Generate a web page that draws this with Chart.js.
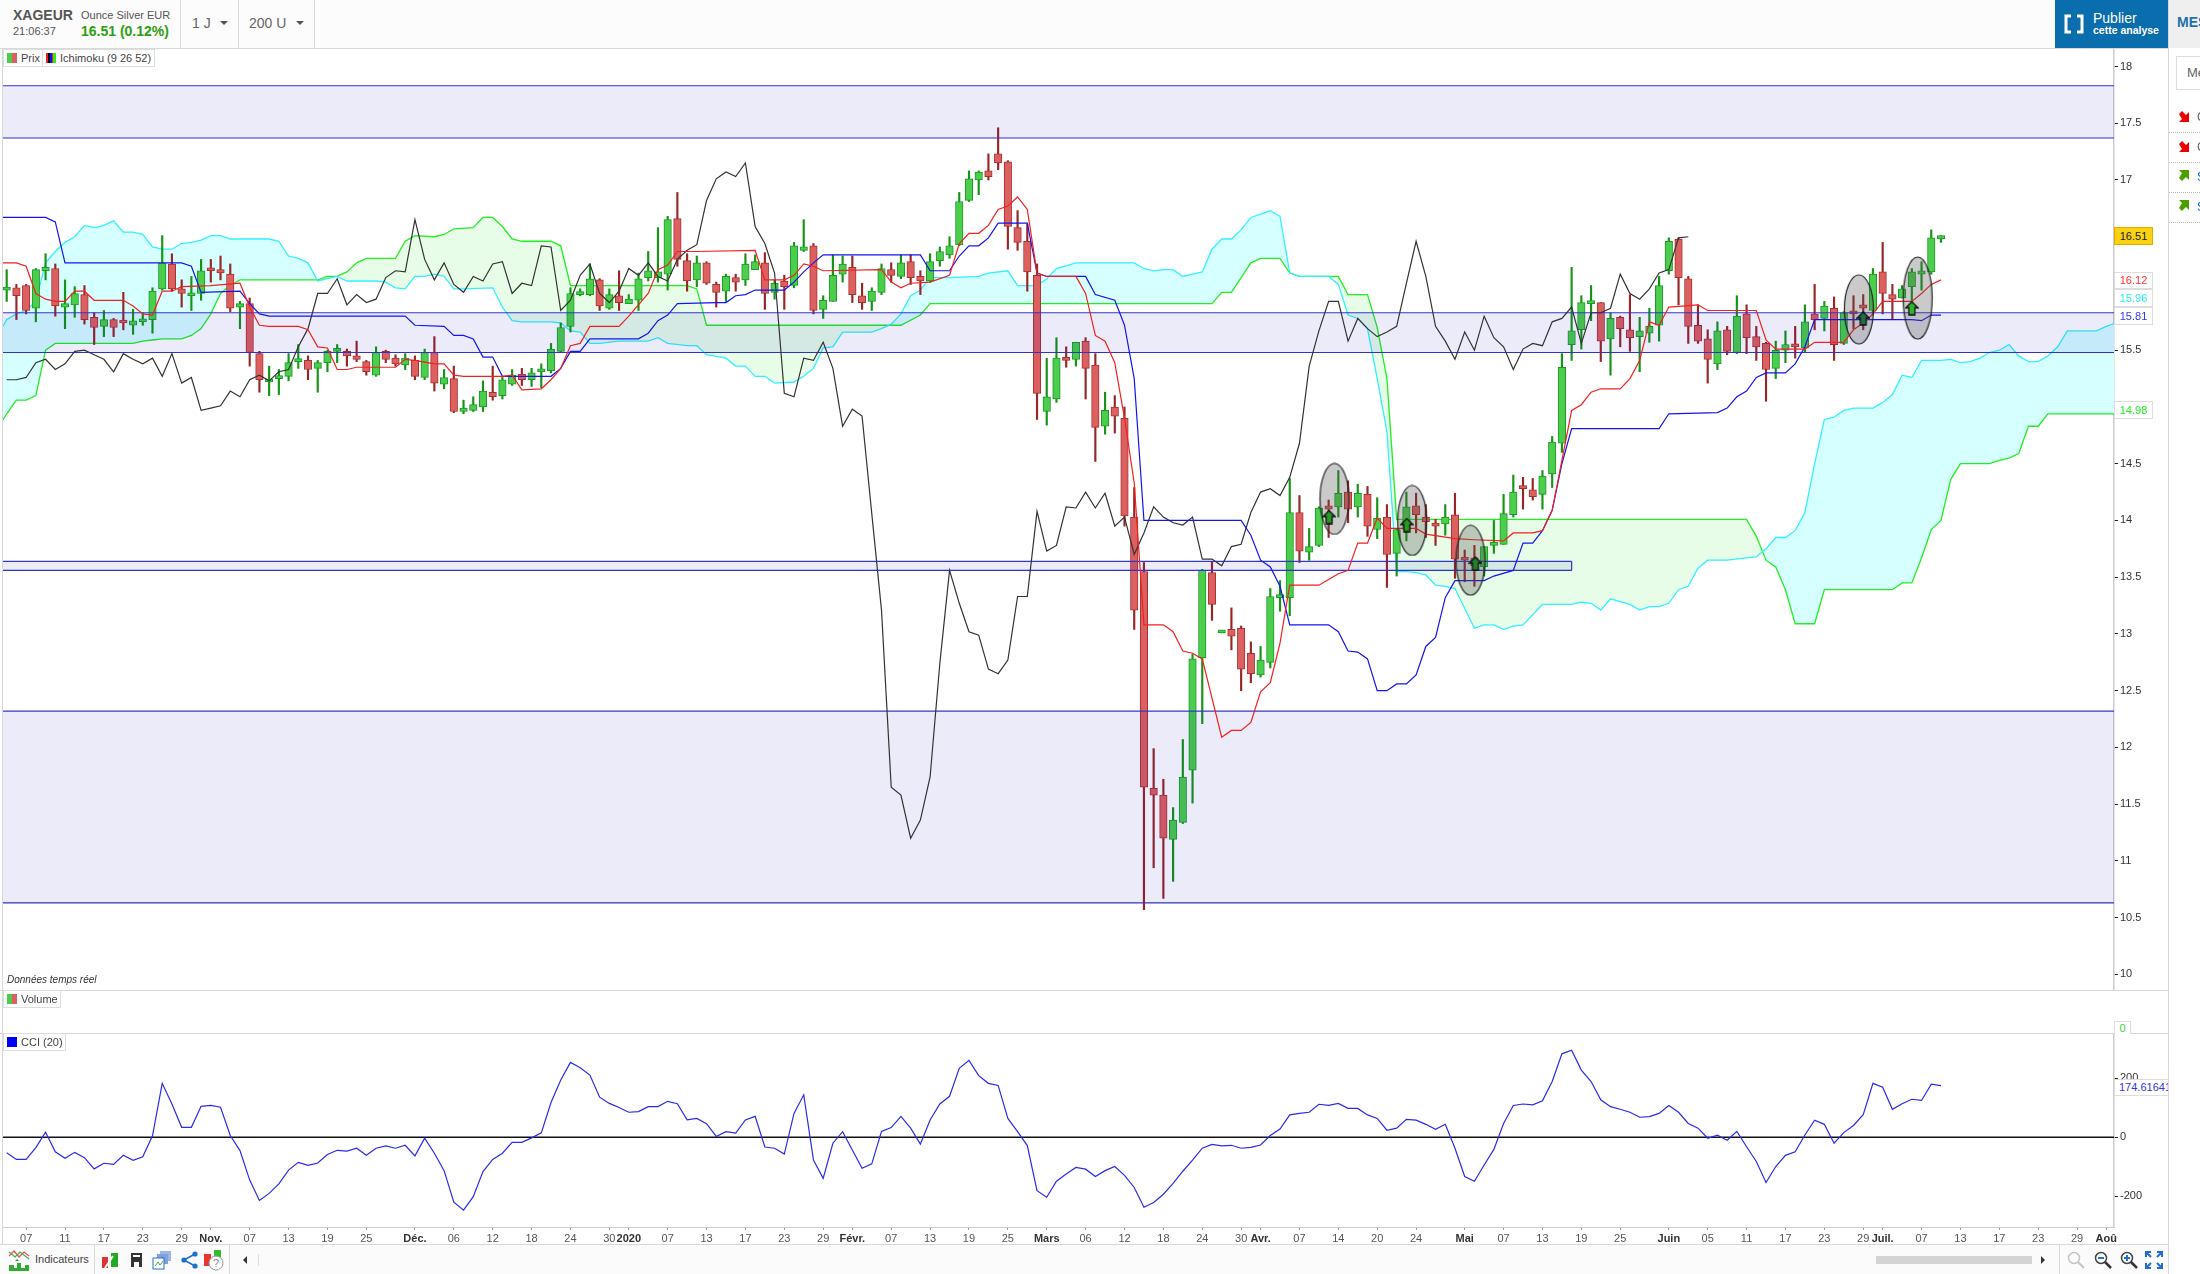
<!DOCTYPE html>
<html lang="fr">
<head>
<meta charset="utf-8">
<title>XAGEUR</title>
<script src="https://cdn.jsdelivr.net/npm/chart.js@4/dist/chart.umd.js"></script>
<style>
html, body { margin: 0; padding: 0; background: #fff; width: 2200px; height: 1274px; overflow: hidden; font-family: "Liberation Sans", Arial, sans-serif; color: #555; }
canvas { position: absolute; left: 0; }
.abs { position: absolute; white-space: nowrap; }
.line { position: absolute; background: #d8d8d8; }
.legend { position: absolute; box-sizing: border-box; border: 1px solid #ddd; background: #fff; height: 18px; }
.legend span { position: absolute; left: 17px; top: 2px; font-size: 11px; color: #444; white-space: nowrap; }
.legend i { position: absolute; top: 3px; left: 3px; width: 10px; height: 10px; display: block; }
.tag { position: absolute; left: 2114px; width: 39px; box-sizing: border-box; border: 1px solid #ddd; background: #fff; font-size: 11px; text-align: center; }
</style>
</head>
<body>
<canvas id="draw" width="2168" height="941" style="top:49px"></canvas>
<canvas id="cci" width="2168" height="211" style="top:1033px"></canvas>

<!-- top bar -->
<div class="abs" style="left:0;top:0;width:2055px;height:48px;background:#fcfcfc"></div>
<div class="abs" style="left:13px;top:7px;font-size:14px;font-weight:bold">XAGEUR</div>
<div class="abs" style="left:81px;top:9px;font-size:11px">Ounce Silver EUR</div>
<div class="abs" style="left:13px;top:25px;font-size:11px">21:06:37</div>
<div class="abs" style="left:81px;top:23px;font-size:14px;font-weight:bold;color:#2ca00f">16.51 (0.12%)</div>
<div class="line" style="left:180px;top:0;width:1px;height:48px"></div>
<div class="line" style="left:238px;top:0;width:1px;height:48px"></div>
<div class="line" style="left:314px;top:0;width:1px;height:48px"></div>
<div class="abs" style="left:192px;top:15px;font-size:14px;color:#666">1 J</div>
<div class="abs" style="left:220px;top:21px;border-left:4px solid transparent;border-right:4px solid transparent;border-top:4px solid #555"></div>
<div class="abs" style="left:249px;top:15px;font-size:14px;color:#666">200 U</div>
<div class="abs" style="left:296px;top:21px;border-left:4px solid transparent;border-right:4px solid transparent;border-top:4px solid #555"></div>
<div class="abs" style="left:2055px;top:0;width:113px;height:49px;background:#0a6dad"></div>
<svg class="abs" style="left:2064px;top:14px" width="20" height="20"><path d="M7 2H2V18H7M13 2H18V18H13" fill="none" stroke="#fff" stroke-width="3"/></svg>
<div class="abs" style="left:2093px;top:10px;font-size:14px;color:#fff">Publier</div>
<div class="abs" style="left:2093px;top:24px;font-size:10.5px;font-weight:bold;color:#fff">cette analyse</div>
<div class="abs" style="left:2168px;top:0;width:32px;height:48px;background:#efefef"></div>
<div class="abs" style="left:2177px;top:14px;font-size:14px;font-weight:bold;color:#1f6fb0;width:23px;overflow:hidden">MES</div>

<!-- frame lines -->
<div class="line" style="left:0;top:48px;width:2168px;height:1px"></div>
<div class="line" style="left:2px;top:48px;width:1px;height:1196px"></div>
<div class="line" style="left:0;top:990px;width:2168px;height:1px"></div>
<div class="line" style="left:0;top:1033px;width:2168px;height:1px"></div>
<div class="line" style="left:0;top:1244px;width:2168px;height:1px"></div>
<div class="line" style="left:2168px;top:0;width:1px;height:1274px"></div>

<!-- legends -->
<div class="legend" style="left:3px;top:49px;width:40px"><i style="background:linear-gradient(90deg,#4ccd4c 50%,#dd6060 50%)"></i><span>Prix</span></div>
<div class="legend" style="left:42px;top:49px;width:113px"><i style="background:linear-gradient(90deg,#e22 20%,#000 20%,#000 40%,#11e 40%,#11e 60%,#e22 60%,#e22 70%,#2e2 70%)"></i><span>Ichimoku (9 26 52)</span></div>
<div class="abs" style="left:7px;top:974px;font-size:10px;font-style:italic;color:#333">Données temps réel</div>
<div class="legend" style="left:3px;top:990px;width:58px"><i style="background:linear-gradient(90deg,#4ccd4c 50%,#dd6060 50%)"></i><span>Volume</span></div>
<div class="legend" style="left:3px;top:1033px;width:63px"><i style="background:#00f"></i><span>CCI (20)</span></div>

<!-- value tags -->
<div class="tag" style="top:227px;height:18px;background:#f9d312;border-color:#f0a500;color:#222;line-height:16px">16.51</div>
<div class="tag" style="top:272px;height:17px;color:#f33;line-height:15px">16.12</div>
<div class="tag" style="top:289px;height:18px;color:#2ee;line-height:16px">15.96</div>
<div class="tag" style="top:307px;height:18px;color:#33e;line-height:16px">15.81</div>
<div class="tag" style="top:401px;height:18px;color:#2e2;line-height:16px">14.98</div>
<div class="tag" style="top:1021px;height:13px;width:17px;color:#4c4;line-height:12px;border-bottom:0">0</div>
<div class="tag" style="top:1079px;height:17px;width:54px;color:#33e;line-height:15px;overflow:hidden;text-align:left;padding-left:4px;border-right:0">174.61641</div>

<!-- right list -->
<div class="abs" style="left:2176px;top:56px;width:30px;height:34px;border:1px solid #ddd;box-sizing:border-box"></div>
<div class="abs" style="left:2187px;top:65px;font-size:13px;color:#666">Me</div>
<svg class="abs" style="left:2178px;top:110px" width="13" height="13"><path d="M1 4L4 1L8 5L11 2V12H1L4 9Z" fill="#e00"/></svg>
<svg class="abs" style="left:2178px;top:140px" width="13" height="13"><path d="M1 4L4 1L8 5L11 2V12H1L4 9Z" fill="#e00"/></svg>
<svg class="abs" style="left:2178px;top:169px" width="13" height="13"><path d="M1 9L4 12L8 8L11 11V1H1L4 4Z" fill="#4a9e00"/></svg>
<svg class="abs" style="left:2178px;top:199px" width="13" height="13"><path d="M1 9L4 12L8 8L11 11V1H1L4 4Z" fill="#4a9e00"/></svg>
<div class="abs" style="left:2169px;top:132px;width:31px;border-top:1px dotted #bbb"></div>
<div class="abs" style="left:2169px;top:162px;width:31px;border-top:1px dotted #bbb"></div>
<div class="abs" style="left:2169px;top:192px;width:31px;border-top:1px dotted #bbb"></div>
<div class="abs" style="left:2169px;top:222px;width:31px;border-top:1px dotted #bbb"></div>
<div class="abs" style="left:2197px;top:110px;font-size:12px;color:#666">C</div>
<div class="abs" style="left:2197px;top:140px;font-size:12px;color:#666">C</div>
<div class="abs" style="left:2197px;top:170px;font-size:12px;color:#15c">S</div>
<div class="abs" style="left:2197px;top:200px;font-size:12px;color:#15c">S</div>

<!-- bottom bar -->
<div class="abs" style="left:0;top:1245px;width:2168px;height:29px;background:#fbfbfb"></div>
<svg class="abs" style="left:8px;top:1248px" width="22" height="24"><path d="M1 8L6 3L11 9L16 4L21 8" fill="none" stroke="#d55" stroke-width="1.2"/><path d="M1 4L7 9L12 4L21 11" fill="none" stroke="#5a5" stroke-width="1.2"/><path d="M1 23V17H6V20H9V15H13V20H17V17H21V23Z" fill="#3a3"/><path d="M9 11L11 13H7Z" fill="#2a2"/></svg>
<div class="abs" style="left:35px;top:1253px;font-size:11px;color:#444">Indicateurs</div>
<div class="line" style="left:94px;top:1245px;width:1px;height:29px"></div>
<svg class="abs" style="left:101px;top:1250px" width="18" height="20"><rect x="10" y="3" width="7" height="14" fill="#2a2"/><rect x="1" y="7" width="6" height="11" fill="#d33"/><path d="M4 18L12 6" stroke="#fff" stroke-width="2"/></svg>
<svg class="abs" style="left:130px;top:1252px" width="13" height="16"><path d="M1 1H12V15H9V10H4V15H1Z" fill="#333"/><rect x="3" y="3" width="7" height="2" fill="#fff"/></svg>
<svg class="abs" style="left:152px;top:1250px" width="21" height="20"><rect x="8" y="1" width="11" height="10" fill="#9ab8e6"/><rect x="5" y="4" width="11" height="10" fill="#7fa2dd"/><rect x="1" y="8" width="11" height="11" fill="#fff" stroke="#2a6dd0"/><path d="M3 16L6 12L8 15L11 11" fill="none" stroke="#4a4" stroke-width="1"/></svg>
<svg class="abs" style="left:181px;top:1251px" width="18" height="18"><path d="M14 3L3 9L14 15" fill="none" stroke="#1f6fd0" stroke-width="1.6"/><circle cx="14" cy="3" r="2.6" fill="#1f6fd0"/><circle cx="3" cy="9" r="2.6" fill="#1f6fd0"/><circle cx="14" cy="15" r="2.6" fill="#1f6fd0"/></svg>
<svg class="abs" style="left:203px;top:1248px" width="22" height="24"><rect x="1" y="6" width="7" height="12" fill="#e33"/><rect x="11" y="2" width="7" height="7" fill="#3b3"/><circle cx="13" cy="15" r="7" fill="#fff" stroke="#999"/><text x="10" y="19" font-size="11" font-family="Liberation Sans" fill="#888">?</text></svg>
<div class="line" style="left:229px;top:1245px;width:1px;height:29px"></div>
<div class="abs" style="left:243px;top:1256px;border-top:4px solid transparent;border-bottom:4px solid transparent;border-right:4px solid #333"></div>
<div class="abs" style="left:258px;top:1254px;width:1px;height:12px;background:#ddd"></div>
<div class="abs" style="left:1876px;top:1256px;width:156px;height:8px;background:#d4d4d4"></div>
<div class="abs" style="left:2041px;top:1256px;border-top:4px solid transparent;border-bottom:4px solid transparent;border-left:4px solid #333"></div>
<div class="line" style="left:2059px;top:1245px;width:1px;height:29px"></div>
<svg class="abs" style="left:2066px;top:1250px" width="20" height="20"><circle cx="8" cy="8" r="5.5" fill="none" stroke="#c5c5c5" stroke-width="1.5"/><path d="M12 12L18 18" stroke="#c5c5c5" stroke-width="2"/></svg>
<svg class="abs" style="left:2093px;top:1250px" width="20" height="20"><circle cx="8" cy="8" r="5.5" fill="#fff" stroke="#444" stroke-width="1.5"/><path d="M5 8H11" stroke="#1f6fd0" stroke-width="2"/><path d="M12 12L18 18" stroke="#333" stroke-width="2.5"/></svg>
<svg class="abs" style="left:2119px;top:1250px" width="20" height="20"><circle cx="8" cy="8" r="5.5" fill="#fff" stroke="#444" stroke-width="1.5"/><path d="M5 8H11M8 5V11" stroke="#1f6fd0" stroke-width="2"/><path d="M12 12L18 18" stroke="#333" stroke-width="2.5"/></svg>
<svg class="abs" style="left:2145px;top:1251px" width="18" height="18"><path d="M1 6V1H6M12 1H17V6M17 12V17H12M6 17H1V12M1 1L6 6M17 1L12 6M17 17L12 12M1 17L6 12" fill="none" stroke="#1f6fd0" stroke-width="2"/></svg>

<script>
const opens = [16.03,16.05,16.07,15.87,16.20,16.22,15.88,15.90,15.99,15.79,
	15.71,15.77,15.75,15.72,15.75,15.77,16.04,16.26,16.04,15.98,
	16.00,16.21,16.21,16.17,15.88,15.91,15.47,15.22,15.25,15.27,
	15.40,15.41,15.34,15.39,15.49,15.49,15.45,15.40,15.28,15.49,
	15.43,15.37,15.41,15.26,15.48,15.20,15.25,14.96,14.97,15.00,
	15.13,15.10,15.20,15.29,15.24,15.31,15.32,15.49,15.71,15.99,
	15.99,16.12,15.87,15.98,15.91,15.94,16.14,16.14,16.17,16.66,
	16.29,16.12,16.27,16.08,16.02,16.14,16.12,16.21,16.27,16.01,
	16.11,16.07,16.38,16.42,15.86,15.93,16.17,16.23,15.98,15.93,
	16.01,16.21,16.15,16.28,16.15,16.11,16.29,16.34,16.43,16.82,
	17.00,17.08,17.23,17.16,16.58,16.46,16.16,14.96,15.07,15.42,
	15.42,15.58,15.37,14.83,15.00,14.90,14.03,13.55,11.64,11.58,
	11.19,11.34,11.80,12.79,13.54,13.01,13.04,13.05,12.83,12.64,
	12.75,13.32,13.32,14.07,13.72,13.78,14.13,14.12,14.25,14.12,
	14.23,13.92,14.03,13.71,13.92,14.13,14.03,13.97,13.97,14.05,
	13.67,13.67,13.59,13.78,13.79,14.05,14.30,14.27,14.23,14.41,
	14.68,15.55,15.68,15.91,15.92,15.60,15.79,15.68,15.62,15.65,
	15.72,16.20,16.48,16.13,15.72,15.60,15.38,15.68,15.48,15.82,
	15.62,15.56,15.34,15.50,15.54,15.52,15.82,15.78,15.87,15.56,
	15.84,15.90,15.85,16.19,15.99,15.96,16.06,16.17,16.19,16.48];
const closes = [16.05,15.98,15.85,16.21,16.23,15.89,15.91,16.00,15.77,15.70,
	15.77,15.70,15.74,15.76,15.76,16.02,16.27,16.04,16.00,15.99,
	16.20,16.20,16.18,15.87,15.91,15.48,15.24,15.24,15.26,15.39,
	15.42,15.33,15.39,15.49,15.50,15.45,15.42,15.31,15.48,15.42,
	15.38,15.43,15.27,15.48,15.21,15.26,14.96,14.99,15.02,15.14,
	15.09,15.24,15.28,15.24,15.30,15.33,15.51,15.70,16.00,16.00,
	16.13,15.89,15.99,15.92,15.95,16.13,16.20,16.19,16.65,16.30,
	16.11,16.27,16.09,16.01,16.15,16.10,16.26,16.28,16.00,16.09,
	16.06,16.42,16.41,15.85,15.94,16.16,16.26,15.99,15.92,16.02,
	16.22,16.16,16.27,16.14,16.11,16.28,16.37,16.42,16.81,17.01,
	17.07,17.03,17.15,16.59,16.45,16.19,15.12,15.09,15.43,15.41,
	15.57,15.34,14.82,14.97,14.92,14.04,13.21,11.65,11.58,11.20,
	11.36,11.74,12.78,13.56,13.26,13.02,12.98,12.69,12.65,12.77,
	13.33,13.33,14.07,13.73,13.77,14.11,14.10,14.24,14.10,14.24,
	13.95,14.02,13.70,13.92,14.12,14.05,13.99,13.95,14.03,13.66,
	13.65,13.60,13.77,13.78,14.06,14.25,14.28,14.21,14.39,14.69,
	15.35,15.67,15.92,15.93,15.58,15.78,15.69,15.61,15.67,15.71,
	16.07,16.46,16.14,15.71,15.58,15.42,15.67,15.49,15.80,15.61,
	15.53,15.33,15.50,15.55,15.53,15.75,15.77,15.89,15.55,15.83,
	15.82,15.87,16.17,16.00,15.95,16.04,16.19,16.20,16.49,16.51];
const highs = [16.21,16.08,16.08,16.22,16.35,16.26,16.12,16.06,16.07,15.83,
	15.85,15.78,16.01,15.86,15.83,16.05,16.51,16.35,16.12,16.15,
	16.30,16.30,16.33,16.26,15.93,15.96,15.49,15.36,15.33,15.47,
	15.55,15.45,15.41,15.50,15.55,15.51,15.58,15.41,15.53,15.50,
	15.46,15.47,15.45,15.51,15.62,15.33,15.36,15.06,15.09,15.23,
	15.36,15.27,15.33,15.34,15.34,15.38,15.56,15.74,16.05,16.04,
	16.26,16.13,16.04,16.20,15.99,16.18,16.37,16.58,16.68,16.89,
	16.35,16.33,16.28,16.10,16.17,16.17,16.35,16.34,16.36,16.12,
	16.16,16.45,16.65,16.44,15.98,16.34,16.33,16.33,16.09,16.05,
	16.26,16.27,16.34,16.34,16.20,16.35,16.41,16.50,16.89,17.08,
	17.08,17.23,17.46,17.17,16.73,16.61,16.26,15.43,15.61,15.53,
	15.57,15.61,15.47,15.13,15.10,15.00,14.29,13.63,11.99,11.72,
	11.47,12.07,12.82,13.57,13.64,13.03,13.23,13.07,12.93,12.89,
	13.40,13.47,14.37,14.22,13.93,14.12,14.18,14.44,14.35,14.32,
	14.30,14.20,14.14,13.93,14.25,14.24,14.14,14.01,14.14,14.24,
	13.74,13.78,13.77,14.00,14.23,14.40,14.38,14.37,14.44,14.74,
	15.47,16.23,15.98,16.07,15.92,15.83,15.80,15.99,15.79,15.87,
	16.15,16.49,16.49,16.15,15.90,15.68,15.75,15.71,15.98,15.90,
	15.71,15.57,15.58,15.67,15.71,15.90,16.08,15.93,15.97,15.84,
	15.98,15.99,16.22,16.45,16.08,16.07,16.22,16.28,16.56,16.51];
const lows = [15.93,15.77,15.82,15.75,16.12,15.80,15.69,15.79,15.73,15.55,
	15.62,15.62,15.68,15.64,15.72,15.65,16.03,16.02,15.88,15.85,
	15.94,16.10,16.12,15.84,15.69,15.36,15.13,15.10,15.11,15.23,
	15.34,15.24,15.13,15.31,15.39,15.36,15.40,15.28,15.27,15.39,
	15.36,15.33,15.24,15.24,15.14,15.16,14.95,14.94,14.96,14.96,
	15.06,15.07,15.19,15.19,15.18,15.17,15.30,15.48,15.66,15.98,
	15.98,15.85,15.86,15.85,15.91,15.85,16.11,16.10,16.03,16.24,
	16.02,16.06,16.08,15.88,15.93,16.02,16.07,16.21,15.86,15.95,
	15.86,16.05,16.37,15.82,15.78,15.93,16.10,15.92,15.86,15.85,
	15.99,16.10,16.13,16.08,15.99,16.10,16.24,16.31,16.42,16.81,
	16.87,17.00,17.09,16.39,16.38,16.02,14.89,14.84,15.04,15.35,
	15.36,15.07,14.52,14.76,14.77,13.95,13.04,10.57,10.94,10.67,
	10.82,11.33,11.51,12.21,13.12,13.01,12.86,12.50,12.57,12.62,
	12.70,13.20,13.16,13.63,13.65,13.77,13.85,14.03,13.98,14.03,
	13.86,13.84,13.41,13.51,13.82,13.89,13.85,13.78,13.87,13.49,
	13.46,13.42,13.51,13.71,13.79,14.03,14.10,14.18,14.10,14.29,
	14.60,15.41,15.51,15.76,15.40,15.28,15.53,15.49,15.31,15.57,
	15.58,16.17,15.90,15.56,15.56,15.21,15.33,15.46,15.47,15.47,
	15.41,15.05,15.25,15.39,15.43,15.48,15.68,15.67,15.41,15.55,
	15.69,15.68,15.81,15.82,15.77,15.96,15.84,16.03,16.17,16.45];

// Ichimoku lines: bar number of each vertex, then its price
const tenkanBars = [-1,1,2,3,4,5,6,7,8,9,12,13,14,15,16,17,18,21,24,25,26,27,30,31,32,33,34,35,36,40,41,42,44,45,46,47,51,52,53,55,56,57,58,59,60,63,64,66,67,68,69,71,77,78,80,81,82,83,84,90,91,92,93,95,97,98,99,100,101,102,103,104,105,106,107,110,111,112,113,114,115,116,117,119,120,121,122,123,125,126,127,128,129,130,131,132,135,136,137,138,139,140,141,142,145,146,149,151,154,155,157,158,159,160,161,162,163,164,166,167,168,169,170,171,174,175,180,181,182,185,186,189,190,191,192,193,196,197,198,199];
const tenkanVals = [16.27,16.27,16.24,16.00,15.95,15.93,15.93,16.02,16.02,15.94,15.94,15.89,15.82,15.81,16.02,16.02,16.06,16.07,16.09,15.88,15.72,15.71,15.71,15.68,15.53,15.52,15.33,15.33,15.35,15.35,15.42,15.41,15.38,15.38,15.28,15.27,15.27,15.28,15.15,15.16,15.24,15.34,15.54,15.56,15.71,15.71,15.80,16.00,16.21,16.25,16.37,16.37,16.38,16.12,16.12,16.16,16.26,16.24,16.20,16.21,16.10,16.05,16.09,16.10,16.16,16.44,16.53,16.53,16.60,16.74,16.77,16.85,16.74,16.18,16.15,16.15,16.00,15.63,15.58,15.39,14.90,14.33,13.08,13.08,13.02,12.85,12.83,12.78,12.09,12.15,12.15,12.22,12.49,12.57,12.92,13.43,13.43,13.48,13.53,13.56,13.80,13.80,14.02,13.93,13.93,13.88,13.84,13.83,13.82,13.89,13.89,13.91,14.09,14.53,14.97,15.02,15.13,15.16,15.16,15.25,15.41,15.75,15.72,15.88,15.90,15.85,15.85,15.59,15.51,15.51,15.57,15.57,15.68,15.74,15.82,15.93,15.93,16.00,16.08,16.12];
const kijunBars = [-1,4,5,6,18,19,20,24,25,26,27,41,42,45,46,47,48,49,50,51,56,57,58,59,60,65,66,67,68,69,73,74,75,76,77,80,81,82,83,84,94,95,97,98,99,100,101,102,105,106,107,111,112,114,115,116,117,127,128,129,130,131,132,136,137,138,139,140,141,142,143,144,145,146,147,148,149,152,153,155,156,157,158,159,160,161,170,171,176,177,178,179,180,181,183,184,185,186,196,197,198,199];
const kijunVals = [16.67,16.67,16.63,16.27,16.27,16.24,16.01,16.02,15.91,15.82,15.80,15.80,15.72,15.71,15.63,15.63,15.60,15.44,15.44,15.27,15.27,15.34,15.49,15.49,15.60,15.60,15.65,15.76,15.81,15.91,15.92,15.92,15.98,15.99,16.03,16.03,16.10,16.19,16.27,16.34,16.34,16.20,16.20,16.33,16.42,16.42,16.49,16.62,16.62,16.18,16.15,16.15,15.99,15.94,15.72,15.25,14.00,14.00,13.87,13.65,13.59,13.42,13.08,13.08,13.02,12.85,12.84,12.78,12.50,12.50,12.56,12.56,12.64,12.89,12.97,13.32,13.47,13.47,13.51,13.56,13.80,13.80,13.91,14.09,14.50,14.81,14.81,14.94,14.95,14.99,15.09,15.14,15.26,15.30,15.30,15.38,15.53,15.77,15.77,15.76,15.81,15.81];
const chikou = [15.24,15.24,15.26,15.39,15.42,15.33,15.38,15.49,15.50,15.46,
	15.42,15.31,15.47,15.42,15.38,15.43,15.27,15.47,15.21,15.26,
	14.97,14.99,15.01,15.14,15.09,15.24,15.28,15.23,15.31,15.33,
	15.53,15.69,16.00,16.00,16.13,15.90,15.99,15.92,15.95,16.14,
	16.20,16.19,16.65,16.30,16.12,16.27,16.08,16.01,16.15,16.11,
	16.26,16.28,16.00,16.09,16.07,16.42,16.41,15.85,15.94,16.16,
	16.26,16.00,15.92,16.02,16.22,16.16,16.27,16.15,16.11,16.30,
	16.38,16.43,16.82,17.01,17.07,17.03,17.15,16.59,16.44,16.18,
	15.12,15.09,15.43,15.41,15.57,15.34,14.83,14.98,14.92,14.06,
	13.21,11.65,11.58,11.20,11.36,11.74,12.74,13.56,13.27,13.02,
	12.99,12.69,12.65,12.77,13.33,13.33,14.08,13.73,13.78,14.12,
	14.11,14.25,14.11,14.24,13.95,14.03,13.70,13.89,14.12,14.03,
	13.98,13.96,14.03,13.66,13.66,13.60,13.77,13.79,14.07,14.25,
	14.28,14.22,14.38,14.68,15.36,15.67,15.93,15.93,15.58,15.78,
	15.69,15.62,15.66,15.71,16.09,16.46,16.15,15.71,15.58,15.42,
	15.66,15.50,15.80,15.61,15.53,15.33,15.51,15.56,15.54,15.75,
	15.78,15.88,15.56,15.83,15.83,15.87,16.17,16.00,15.95,16.04,
	16.18,16.21,16.49,16.50];
const senkouCyanBars = [-1,0,1,2,3,4,5,6,7,8,9,10,11,12,13,14,15,16,17,18,19,20,21,22,23,27,28,29,30,31,32,33,34,35,38,39,40,41,42,43,44,45,46,47,50,51,52,53,56,57,58,59,60,61,63,66,67,68,70,71,72,74,75,76,77,78,79,81,82,83,84,85,86,89,90,91,92,93,94,95,97,100,101,103,104,106,107,108,110,116,117,118,119,120,121,122,123,124,125,126,127,128,129,130,131,132,133,136,137,138,139,140,141,142,143,144,145,146,147,148,149,151,152,153,154,155,156,157,158,161,162,163,164,165,167,168,169,170,171,172,173,174,175,177,179,180,181,182,183,184,185,186,187,188,189,190,192,193,194,195,196,197,199,200,201,202,203,204,205,206,207,208,209,210,211,212,215,216,217];
const senkouCyanVals = [15.62,15.77,15.82,15.85,15.93,16.27,16.37,16.45,16.50,16.60,16.58,16.60,16.64,16.54,16.54,16.52,16.41,16.39,16.39,16.44,16.45,16.47,16.51,16.51,16.48,16.48,16.46,16.33,16.31,16.27,16.11,16.13,16.15,16.11,16.11,16.10,16.05,16.04,16.15,16.15,16.17,16.15,16.04,16.04,16.05,15.88,15.76,15.75,15.75,15.74,15.67,15.66,15.56,15.56,15.58,15.58,15.61,15.56,15.54,15.54,15.46,15.43,15.36,15.36,15.27,15.27,15.21,15.22,15.27,15.34,15.52,15.53,15.66,15.66,15.69,15.73,15.82,15.98,16.03,16.14,16.14,16.15,16.18,16.20,16.07,16.07,16.13,16.22,16.27,16.27,16.22,16.20,16.21,16.21,16.15,16.17,16.19,16.39,16.48,16.48,16.56,16.67,16.70,16.73,16.68,16.18,16.15,16.15,16.08,15.81,15.78,15.69,15.25,14.78,13.55,13.55,13.54,13.52,13.43,13.42,13.40,13.05,13.08,13.08,13.04,13.07,13.08,13.17,13.26,13.26,13.28,13.27,13.21,13.31,13.26,13.21,13.24,13.24,13.27,13.39,13.42,13.58,13.65,13.65,13.67,13.68,13.75,13.85,13.85,13.91,14.07,14.50,14.89,14.91,14.97,14.99,14.99,15.04,15.11,15.28,15.26,15.41,15.41,15.42,15.39,15.40,15.43,15.48,15.50,15.55,15.45,15.40,15.40,15.45,15.53,15.67,15.67,15.71,15.74];
const senkouGreenBars = [-1,0,1,2,3,4,5,13,14,15,16,18,19,20,21,22,23,24,32,33,34,35,36,37,40,41,42,44,45,46,48,49,50,51,52,53,56,57,58,70,71,72,92,94,95,124,125,126,127,128,129,131,132,133,137,138,140,141,142,143,179,180,181,182,183,184,186,187,194,195,196,197,198,199,200,201,204,205,206,207,208,209,210,217];
const senkouGreenVals = [14.80,14.94,15.06,15.06,15.10,15.50,15.56,15.56,15.58,15.59,15.60,15.60,15.63,15.69,15.82,16.00,16.07,16.12,16.12,16.15,16.15,16.19,16.27,16.31,16.31,16.46,16.51,16.50,16.52,16.57,16.58,16.67,16.67,16.59,16.48,16.46,16.46,16.42,16.07,16.07,16.04,15.72,15.72,15.81,15.91,15.91,16.01,16.01,16.14,16.27,16.31,16.31,16.18,16.15,16.15,15.99,15.99,15.70,15.25,14.01,14.01,13.86,13.65,13.59,13.39,13.09,13.09,13.39,13.39,13.45,13.45,13.67,13.92,14.00,14.36,14.50,14.50,14.53,14.55,14.59,14.83,14.83,14.94,14.94];

// horizontal zones drawn on the chart: top price, bottom price, last bar
const zoneTops = [17.83,15.83,13.64,12.32];
const zoneBottoms = [17.37,15.48,13.56,10.63];
const zoneEnds = [218,218,161,218];

const ellipseBars = [136.6,144.6,150.6,190.55,196.6];
const ellipsePrices = [14.19,14.00,13.65,15.86,15.96];
const arrowBars = [136.05,144.05,151.1,191,196];
const arrowPrices = [14.03,13.96,13.62,15.78,15.87];

const priceTicks = [10,10.5,11,11.5,12,12.5,13,13.5,14,14.5,15,15.5,16,16.5,17,17.5,18];
const cciTicks = [-200,0,200];

const cciVals = [-52,-75,-75,-35,17,-49,-71,-51,-69,-107,
	-88,-92,-61,-78,-66,5,183,113,34,34,
	105,108,102,6,-45,-145,-214,-190,-158,-111,
	-85,-95,-87,-58,-44,-47,-37,-61,-37,-29,
	-37,-27,-63,-3,-54,-113,-220,-247,-201,-116,
	-75,-54,-17,-17,-2,15,118,194,254,236,
	211,136,115,101,85,87,104,104,122,114,
	59,64,46,3,19,14,59,71,-33,-37,
	-57,81,144,-77,-139,-20,19,-43,-105,-90,
	20,33,71,31,-23,59,113,139,234,261,
	209,183,176,64,19,-28,-181,-203,-149,-124,
	-102,-108,-133,-113,-99,-129,-170,-237,-221,-193,
	-156,-115,-77,-37,-24,-29,-27,-37,-34,-26,
	6,28,76,81,85,112,108,115,98,98,
	76,64,24,31,61,58,44,27,44,-37,
	-133,-149,-94,-41,47,108,113,110,124,189,
	283,295,228,189,127,104,95,85,68,70,
	81,108,85,47,31,-3,7,-10,20,-32,
	-82,-153,-99,-61,-49,8,58,44,-20,16,
	40,77,183,170,95,114,129,125,180,175];

const dateBars = [2,6,10,14,18,21,25,29,33,37,42,46,50,54,58,62,64,68,72,76,80,84,87,91,95,99,103,107,111,115,119,123,127,129,133,137,141,145,150,154,158,162,166,171,175,179,183,187,191,193,197,201,205,209,213,216];
const dateLabels = ["07","11","17","23","29","Nov.","07","13","19","25","Déc.","06","12","18","24","30","2020","07","13","17","23","29","Févr.","07","13","19","25","Mars","06","12","18","24","30","Avr.","07","14","20","24","Mai","07","13","19","25","Juin","05","11","17","23","29","Juil.","07","13","17","23","29","Aoû"];
const boldLabels = ["Nov.","Déc.","2020","Févr.","Mars","Avr.","Mai","Juin","Juil.","Aoû"];

const xMin = -0.38;
const xMax = 216.8;
const bars = opens.map((o, i) => i);

function pairs(xs, ys) {
	return xs.map((x, k) => ({ x: x, y: ys[k] }));
}

function lineSet(data, color, width, order) {
	return { type: "line", data: data, borderColor: color, borderWidth: width, pointRadius: 0, tension: 0, fill: false, order: order };
}

function ellipseSprite(tall) {
	const c = document.createElement("canvas");
	c.width = 32;
	c.height = tall + 2;
	const g = c.getContext("2d");
	g.beginPath();
	g.ellipse(16, tall / 2 + 1, 14.5, tall / 2, 0, 0, Math.PI * 2);
	g.fillStyle = "rgba(80,80,80,0.3)";
	g.fill();
	g.strokeStyle = "#222";
	g.lineWidth = 1.2;
	g.stroke();
	return c;
}

function arrowSprite(color) {
	const c = document.createElement("canvas");
	c.width = 14;
	c.height = 15;
	const g = c.getContext("2d");
	g.beginPath();
	g.moveTo(7, 1);
	g.lineTo(13, 7);
	g.lineTo(10, 7);
	g.lineTo(10, 14);
	g.lineTo(4, 14);
	g.lineTo(4, 7);
	g.lineTo(1, 7);
	g.closePath();
	g.fillStyle = color;
	g.fill();
	g.strokeStyle = "#111";
	g.lineWidth = 1.3;
	g.stroke();
	return c;
}

const ellipseSprites = [71, 70, 70, 69, 82].map(ellipseSprite);
const arrowSprites = ["#249a24", "#249a24", "#1f7f2a", "#1f6f45", "#2fb52f"].map(arrowSprite);

const datasets = [];

// cloud first, so the index of the cyan line is known
datasets.push(lineSet(pairs(senkouCyanBars, senkouCyanVals), "#33f0ff", 1.3, 9));
const cloud = lineSet(pairs(senkouGreenBars, senkouGreenVals), "#22ee22", 1.3, 9);
cloud.fill = { target: 0, above: "#e8fde8", below: "#d6ffff" };
datasets.push(cloud);

datasets.push({
	type: "bar",
	data: bars.map((i) => ({ x: i, y: [lows[i], highs[i]] })),
	backgroundColor: bars.map((i) => (closes[i] >= opens[i] ? "#169416" : "#992626")),
	barThickness: 1.5,
	grouped: false,
	order: 8,
});
datasets.push({
	type: "bar",
	data: bars.map((i) => ({ x: i, y: [opens[i], closes[i]] })),
	backgroundColor: bars.map((i) => (closes[i] >= opens[i] ? "#4ccd4c" : "#dd6060")),
	borderColor: bars.map((i) => (closes[i] >= opens[i] ? "#1a9a2a" : "#a83030")),
	borderWidth: 1,
	borderSkipped: false,
	barThickness: 7.5,
	minBarLength: 3,
	grouped: false,
	order: 7,
});

zoneTops.forEach((top, k) => {
	const upper = lineSet(pairs([-1, zoneEnds[k]], [top, top]), "#3535cc", 1.2, 6);
	upper.fill = { target: datasets.length + 1 };
	upper.backgroundColor = "rgba(0,0,190,0.08)";
	datasets.push(upper);
	datasets.push(lineSet(pairs([-1, zoneEnds[k]], [zoneBottoms[k], zoneBottoms[k]]), "#3535cc", 1.2, 6));
	if (zoneEnds[k] < xMax) {
		const edge = lineSet([{ x: zoneEnds[k], y: zoneBottoms[k] }, { x: zoneEnds[k], y: top }], "#3535cc", 1.2, 6);
		datasets.push(edge);
	}
});

datasets.push(lineSet(pairs(tenkanBars, tenkanVals), "#f22020", 1.2, 5));
datasets.push(lineSet(pairs(kijunBars, kijunVals), "#1414ee", 1.2, 5));
datasets.push(lineSet(chikou.map((v, i) => ({ x: i, y: v })), "#333333", 1.2, 5));

datasets.push({
	type: "line",
	data: pairs(ellipseBars, ellipsePrices),
	showLine: false,
	pointRadius: 1,
	pointStyle: (ctx) => ellipseSprites[ctx.dataIndex],
	order: 3,
});
datasets.push({
	type: "line",
	data: pairs(arrowBars, arrowPrices),
	showLine: false,
	pointRadius: 1,
	pointStyle: (ctx) => arrowSprites[ctx.dataIndex],
	order: 2,
});

function rightAxis(min, max, ticks) {
	return {
		position: "right",
		min: min,
		max: max,
		afterBuildTicks: (axis) => {
			axis.ticks = ticks.map((v) => ({ value: v }));
		},
		afterFit: (axis) => {
			// no room needed for half a label, the end ticks sit inside the panel
			axis.width = 54;
			axis.paddingTop = 0;
			axis.paddingBottom = 0;
		},
		ticks: {
			callback: (v) => String(v),
			autoSkip: false,
			color: "#333",
			font: { family: "Liberation Sans", size: 11 },
			padding: 2,
		},
		grid: { drawOnChartArea: false, tickLength: 4, tickColor: "#222", offset: false },
		border: { color: "#ccc", width: 1.5 },
	};
}

const commonOptions = {
	responsive: false,
	animation: false,
	devicePixelRatio: 1,
	events: [],
	plugins: { legend: { display: false }, tooltip: { enabled: false } },
};

new Chart(document.getElementById("draw").getContext("2d"), {
	type: "line",
	data: { datasets: datasets },
	options: Object.assign({}, commonOptions, {
		layout: { autoPadding: false, padding: { left: 3, right: 0, top: 0, bottom: 0 } },
		scales: {
			x: { type: "linear", display: false, min: xMin, max: xMax, offset: false, grid: { offset: false } },
			y: rightAxis(9.863, 18.154, priceTicks),
		},
	}),
});

new Chart(document.getElementById("cci").getContext("2d"), {
	type: "line",
	data: {
		datasets: [
			lineSet(pairs([-1, 218], [0, 0]), "#111111", 1.6, 2),
			lineSet(cciVals.map((v, i) => ({ x: i, y: v })), "#2a2aee", 1.2, 1),
		],
	},
	options: Object.assign({}, commonOptions, {
		layout: { autoPadding: false, padding: { left: 3, right: 0, top: 0, bottom: 0 } },
		scales: {
			x: {
				type: "linear",
				min: xMin,
				max: xMax,
				offset: false,
				afterBuildTicks: (axis) => {
					axis.ticks = dateBars.map((v) => ({ value: v }));
				},
				afterFit: (axis) => {
					axis.height = 17;
				},
				ticks: {
					autoSkip: false,
					maxRotation: 0,
					minRotation: 0,
					padding: 2,
					color: (ctx) => (boldLabels.includes(dateLabels[ctx.index]) ? "#333" : "#555"),
					font: (ctx) => ({
						family: "Liberation Sans",
						size: 11,
						weight: boldLabels.includes(dateLabels[ctx.index]) ? "bold" : "normal",
					}),
					callback: (v, i) => dateLabels[i],
				},
				grid: { drawOnChartArea: false, tickLength: 3, tickColor: "#999", offset: false },
				border: { color: "#ccc" },
			},
			y: rightAxis(-304, 353.6, cciTicks),
		},
	}),
});
</script>
</body>
</html>
